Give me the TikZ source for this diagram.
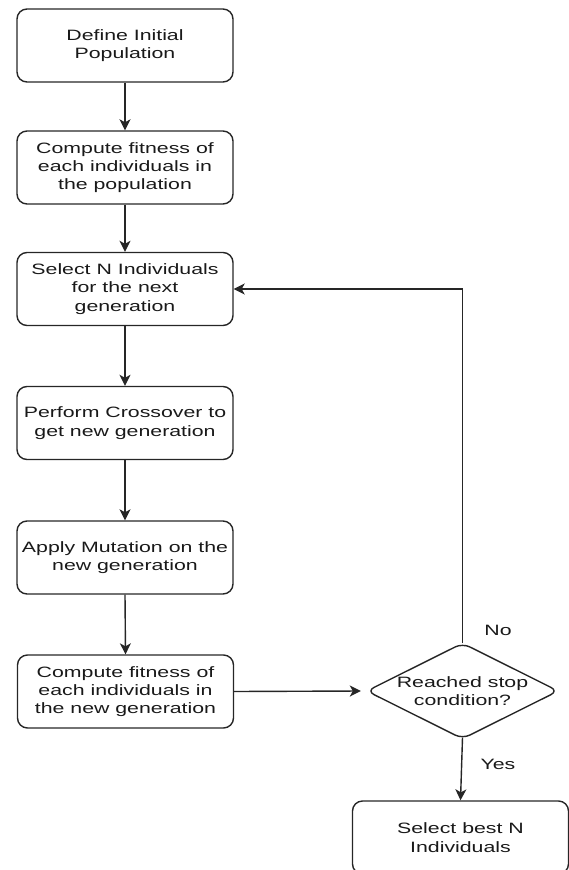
\documentclass[tikz,border=0pt]{standalone}
\usepackage{fontspec}
\setmainfont{Liberation Sans}[FakeStretch=1.42]
\usetikzlibrary{shapes.geometric,arrows.meta}
\begin{document}
\begin{tikzpicture}[x=1pt,y=-1pt,
  box/.style={draw=black!85, line width=1.4pt, rounded corners=10pt, minimum width=216pt, minimum height=73pt, align=center, font=\fontsize{15}{18.3}\selectfont, inner sep=0pt, text=black!90},
  arr/.style={draw=black!85, line width=1.4pt, -{Stealth[length=11pt,width=11pt,inset=3pt]}},
  lbl/.style={font=\fontsize{15}{18.3}\selectfont, text=black!90, inner sep=0pt}]
\useasboundingbox (0,0) rectangle (569,870);
\node[box] (b1) at (125,45.5) {Define Initial\\Population};
\node[box] (b2) at (125,167.5) {Compute fitness of\\each individuals in\\the population};
\node[box] (b3) at (125,289) {Select N Individuals\\for the next\\generation};
\node[box] (b4) at (125,423) {Perform Crossover to\\get new generation};
\node[box] (b5) at (125,557.5) {Apply Mutation on the\\new generation};
\node[box] (b6) at (125.5,691.5) {Compute fitness of\\each individuals in\\the new generation};
\node[draw=black!85, line width=1.4pt, diamond, rounded corners=8pt, minimum width=192pt, minimum height=96pt, inner sep=0pt] (dec) at (462.5,691) {};
\node[lbl, align=center] (dect) at (dec.center) {Reached stop\\condition?};
\node[box] (fin) at (460.5,837.5) {Select best N\\Individuals};
\draw[arr] (b1.south) -- (b2.north);
\draw[arr] (b2.south) -- (b3.north);
\draw[arr] (b3.south) -- (b4.north);
\draw[arr] (b4.south) -- (b5.north);
\draw[arr] (b5.south) -- (b6.north);
\draw[arr] (b6.east) -- ([xshift=-5pt]dec.west);
\draw[arr] ([yshift=-1pt]dec.north) |- (b3.east);
\draw[arr] ([yshift=2pt]dec.south) -- (fin.north);
\node[lbl] (no) at (498,630) {No};
\node[lbl] (yes) at (498,764) {Yes};
\end{tikzpicture}
\end{document}
